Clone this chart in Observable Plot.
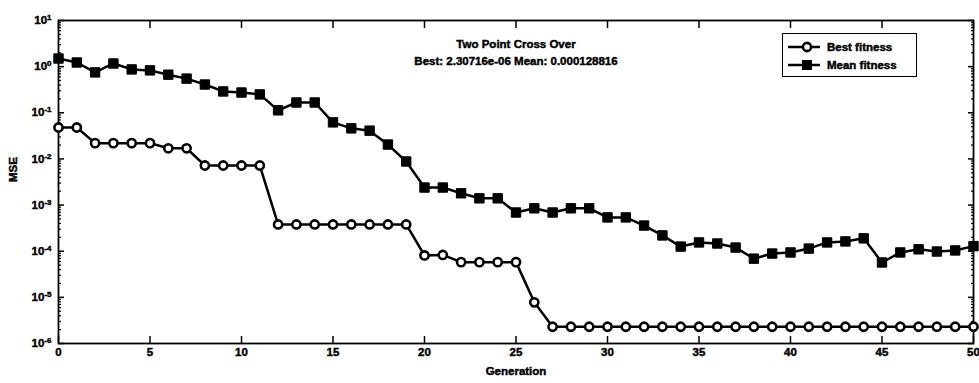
<!DOCTYPE html>
<html>
<head>
<meta charset="utf-8">
<script src="https://cdn.jsdelivr.net/npm/d3@7"></script>
<script src="https://cdn.jsdelivr.net/npm/@observablehq/plot@0.6"></script>
<style>
  body { margin: 0; background: #fff; }
  #chart { position: relative; width: 979px; height: 383px; font-family: "Liberation Sans", Arial, sans-serif; font-weight: bold; }
  #chart svg { display: block; }
  #chart svg text { stroke: black; stroke-width: 0.45px; }
  .legend { position: absolute; left: 782px; top: 33px; width: 135px; height: 44px; box-sizing: border-box;
            border: 1.6px solid #000; background: #fff; font-size: 11.5px; padding-top: 4px;
            -webkit-text-stroke: 0.45px black; }
  .legend .row { display: flex; align-items: center; height: 18px; }
  .legend svg { margin-left: 4px; margin-right: 6px; }
</style>
</head>
<body>
<div id="chart"></div>
<script>
// GA run: best and mean MSE per generation
const generations = d3.range(0, 51);
const bestFitness = [
  0.048, 0.048, 0.022, 0.022, 0.022, 0.022, 0.017, 0.017, 0.0072, 0.0072,
  0.0072, 0.0072, 0.00038, 0.00038, 0.00038, 0.00038, 0.00038, 0.00038, 0.00038, 0.00038,
  8.1e-5, 8.3e-5, 5.8e-5, 5.8e-5, 5.8e-5, 5.8e-5, 7.8e-6, 2.30716e-6, 2.30716e-6, 2.30716e-6,
  2.30716e-6, 2.30716e-6, 2.30716e-6, 2.30716e-6, 2.30716e-6, 2.30716e-6, 2.30716e-6, 2.30716e-6, 2.30716e-6, 2.30716e-6,
  2.30716e-6, 2.30716e-6, 2.30716e-6, 2.30716e-6, 2.30716e-6, 2.30716e-6, 2.30716e-6, 2.30716e-6, 2.30716e-6, 2.30716e-6,
  2.30716e-6
];
const meanFitness = [
  1.5, 1.23, 0.75, 1.17, 0.87, 0.83, 0.67, 0.55, 0.41, 0.29,
  0.275, 0.25, 0.113, 0.167, 0.167, 0.062, 0.046, 0.041, 0.0205, 0.0088,
  0.0024, 0.0024, 0.0018, 0.0014, 0.0014, 0.00069, 0.00085, 0.00069, 0.00085, 0.00085,
  0.00054, 0.00054, 0.00036, 0.00022, 0.000126, 0.000155, 0.000147, 0.00012, 0.000069, 0.000089,
  0.000094, 0.000114, 0.000155, 0.000163, 0.00019, 0.000057, 0.000094, 0.00011, 0.0000985, 0.000104,
  0.000128816
];
const seriesNames = ["Best fitness", "Mean fitness"];
const xTicks = [0, 5, 10, 15, 20, 25, 30, 35, 40, 45, 50];
const yExponents = [-6, -5, -4, -3, -2, -1, 0, 1];
const yTicks = yExponents.map(e => Math.pow(10, e));
const titleText = "Two Point Cross Over";
const subtitleText = "Best: 2.30716e-06 Mean: 0.000128816";
const xLabel = "Generation";
const yLabel = "MSE";

// minor log ticks (2..9 within each decade)
const yMinor = [];
for (let e = -6; e < 1; e++) for (let m = 2; m <= 9; m++) yMinor.push(m * Math.pow(10, e));

const rows = generations.map((g, i) => ({gen: g, best: bestFitness[i], mean: meanFitness[i]}));

const plot = Plot.plot({
  width: 979,
  height: 383,
  marginLeft: 58,
  marginRight: 6,
  marginTop: 20,
  marginBottom: 40,
  style: {fontFamily: "'Liberation Sans', Arial, sans-serif", fontSize: "11px", fontWeight: "bold", background: "white", color: "black"},
  x: {domain: [0, 50]},
  y: {type: "log", domain: [1e-6, 10]},
  marks: [
    Plot.frame({stroke: "black", strokeWidth: 1.8}),
    // x axis: labels + inward ticks on bottom and top
    Plot.axisX({ticks: xTicks, tickSize: 0, tickPadding: 4, tickFormat: d => String(d), label: null, fontSize: 11.5}),
    Plot.axisX({ticks: xTicks, tickSize: -7, text: null, label: null, strokeWidth: 1.5}),
    Plot.axisX({anchor: "top", ticks: xTicks, tickSize: -7, text: null, label: null, strokeWidth: 1.5}),
    // y axis: labels, inward major and minor ticks on both sides
    Plot.axisY({ticks: yTicks, tickSize: 0, tickPadding: 7, tickFormat: d => "10^" + Math.round(Math.log10(d)), label: null, fontSize: 11.5}),
    Plot.axisY({ticks: yTicks, tickSize: -6, text: null, label: null, strokeWidth: 1.5}),
    Plot.axisY({ticks: yMinor, tickSize: -3, text: null, label: null, strokeWidth: 1.2}),
    Plot.axisY({anchor: "right", ticks: yTicks, tickSize: -6, text: null, label: null, strokeWidth: 1.5}),
    Plot.axisY({anchor: "right", ticks: yMinor, tickSize: -3, text: null, label: null, strokeWidth: 1.2}),
    // series
    Plot.line(rows, {x: "gen", y: "mean", stroke: "black", strokeWidth: 2.5}),
    Plot.line(rows, {x: "gen", y: "best", stroke: "black", strokeWidth: 2.5}),
    Plot.dot(rows, {x: "gen", y: "mean", symbol: "square", r: 5.3, fill: "black", stroke: "black", strokeWidth: 1}),
    Plot.dot(rows, {x: "gen", y: "best", symbol: "circle", r: 4.1, fill: "white", stroke: "black", strokeWidth: 2.6}),
    // titles and axis labels
    Plot.text([titleText], {frameAnchor: "top", dy: 19, fontSize: 11.5, fontWeight: "bold"}),
    Plot.text([subtitleText], {frameAnchor: "top", dy: 36, fontSize: 11.5, fontWeight: "bold"}),
    Plot.text([xLabel], {frameAnchor: "bottom", dy: 31, fontSize: 11.5, fontWeight: "bold"}),
    Plot.text([yLabel], {frameAnchor: "left", dx: -45, rotate: -90, fontSize: 11.5, fontWeight: "bold"})
  ]
});

// render exponent of y tick labels as superscripts
d3.select(plot).selectAll('g[aria-label="y-axis tick label"] text').each(function () {
  const t = d3.select(this);
  const parts = t.text().split("^");
  if (parts.length === 2) {
    t.text(parts[0]);
    t.append("tspan").attr("dy", "-0.5em").attr("font-size", "8px").text(parts[1]);
  }
});

const chart = document.getElementById("chart");
chart.appendChild(plot);

// legend box
const legend = document.createElement("div");
legend.className = "legend";
seriesNames.forEach((name, i) => {
  const row = document.createElement("div");
  row.className = "row";
  const ns = "http://www.w3.org/2000/svg";
  const s = document.createElementNS(ns, "svg");
  s.setAttribute("width", "34"); s.setAttribute("height", "14");
  const ln = document.createElementNS(ns, "line");
  ln.setAttribute("x1", "1"); ln.setAttribute("x2", "33"); ln.setAttribute("y1", "7"); ln.setAttribute("y2", "7");
  ln.setAttribute("stroke", "black"); ln.setAttribute("stroke-width", "2.5");
  s.appendChild(ln);
  if (i === 0) {
    const c = document.createElementNS(ns, "circle");
    c.setAttribute("cx", "20"); c.setAttribute("cy", "7"); c.setAttribute("r", "4.1");
    c.setAttribute("fill", "white"); c.setAttribute("stroke", "black"); c.setAttribute("stroke-width", "2.6");
    s.appendChild(c);
  } else {
    const r = document.createElementNS(ns, "rect");
    r.setAttribute("x", "15"); r.setAttribute("y", "2"); r.setAttribute("width", "10"); r.setAttribute("height", "10");
    r.setAttribute("fill", "black");
    s.appendChild(r);
  }
  row.appendChild(s);
  const label = document.createElement("span");
  label.textContent = name;
  row.appendChild(label);
  legend.appendChild(row);
});
chart.appendChild(legend);
</script>
</body>
</html>
